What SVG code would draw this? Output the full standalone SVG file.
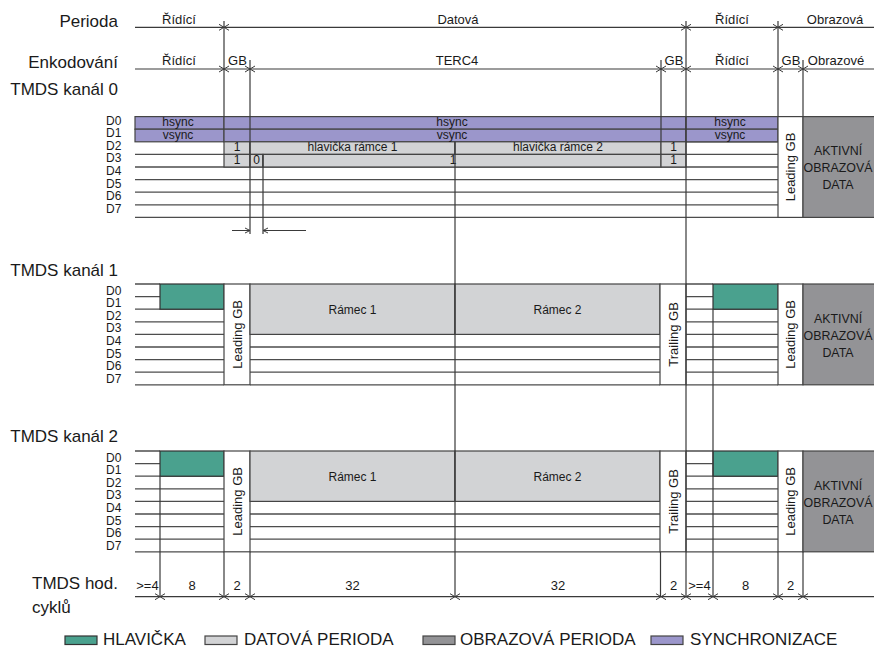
<svg xmlns="http://www.w3.org/2000/svg" width="874" height="647" viewBox="0 0 874 647">
<style>
text{font-family:"Liberation Sans",Arial,sans-serif;fill:#1a1a1a}
.big{font-size:17px}
.sm{font-size:13px}
.cell{font-size:12px}
.act{font-size:12.4px;text-anchor:middle}
.m{text-anchor:middle}
.e{text-anchor:end}
.row{stroke:#4d4d4d;stroke-width:1.3;fill:none}
.vl{stroke:#3a3a3a;stroke-width:1.2;fill:none}
.sync{fill:#9b96cb;stroke:#444;stroke-width:1.2}
.dat{fill:#d2d3d5;stroke:#444;stroke-width:1.2}
.hdr{fill:#4aa18e;stroke:#333;stroke-width:1.2}
.vid{fill:#939396;stroke:#444;stroke-width:1.2}
.gb{fill:#fff;stroke:#444;stroke-width:1.2}
.tk{stroke:#3a3a3a;stroke-width:1;fill:none}
</style>
<defs>
<path id="tick" class="tk" d="M-5 -3 L0 0 L-5 3 M5 -3 L0 0 L5 3"/>
</defs>
<rect width="874" height="647" fill="#fff"/>

<g id="labels">
<text class="big e" x="118" y="26.5">Perioda</text>
<text class="big e" x="118" y="68">Enkodování</text>
<text class="big e" x="118" y="95">TMDS kanál 0</text>
<text class="big e" x="118" y="275.5">TMDS kanál 1</text>
<text class="big e" x="118" y="441.5">TMDS kanál 2</text>
<text class="big" x="32" y="589">TMDS hod.</text>
<text class="big" x="32" y="612.5">cyklů</text>
</g>

<g id="header">
<text class="sm m" x="179" y="23.5">Řídící</text>
<text class="sm m" x="458" y="23.5">Datová</text>
<text class="sm m" x="732" y="23.5">Řídící</text>
<text class="sm m" x="835" y="23.5">Obrazová</text>
<text class="sm m" x="179" y="65">Řídící</text>
<text class="sm m" x="237.5" y="65">GB</text>
<text class="sm m" x="457" y="65">TERC4</text>
<text class="sm m" x="674" y="65">GB</text>
<text class="sm m" x="732" y="65">Řídící</text>
<text class="sm m" x="791" y="65">GB</text>
<text class="sm m" x="836" y="65">Obrazové</text>
</g>

<g id="channel0">
<path class="row" d="M135 154.4H778M135 167H778M135 179.6H778M135 192.2H778M135 204.8H778M135 217.4H778M686 141.8H778"/>
<rect class="sync" x="135" y="116.6" width="89" height="12.6"/>
<rect class="sync" x="135" y="129.2" width="89" height="12.6"/>
<rect class="sync" x="224" y="116.6" width="462" height="12.6"/>
<rect class="sync" x="224" y="129.2" width="462" height="12.6"/>
<rect class="sync" x="686" y="116.6" width="92" height="12.6"/>
<rect class="sync" x="686" y="129.2" width="92" height="12.6"/>
<rect class="dat" x="224" y="141.8" width="26" height="12.6"/>
<rect class="dat" x="250" y="141.8" width="205" height="12.6"/>
<rect class="dat" x="455" y="141.8" width="206" height="12.6"/>
<rect class="dat" x="661" y="141.8" width="25" height="12.6"/>
<rect class="dat" x="224" y="154.4" width="26" height="12.6"/>
<rect class="dat" x="250" y="154.4" width="13" height="12.6"/>
<rect class="dat" x="263" y="154.4" width="398" height="12.6"/>
<rect class="dat" x="661" y="154.4" width="25" height="12.6"/>
<text class="cell m" x="178" y="126">hsync</text>
<text class="cell m" x="178" y="138.5">vsync</text>
<text class="cell m" x="452" y="126">hsync</text>
<text class="cell m" x="452" y="138.5">vsync</text>
<text class="cell m" x="730" y="126">hsync</text>
<text class="cell m" x="730" y="138.5">vsync</text>
<text class="cell m" x="237" y="151">1</text>
<text class="cell m" x="352.5" y="151">hlavička rámce 1</text>
<text class="cell m" x="558" y="151">hlavička rámce 2</text>
<text class="cell m" x="673.5" y="151">1</text>
<text class="cell m" x="237" y="163.5">1</text>
<text class="cell m" x="256.5" y="163.5">0</text>
<text class="cell m" x="453" y="163.5">1</text>
<text class="cell m" x="673.5" y="163.5">1</text>
<rect class="gb" x="778" y="116.6" width="25" height="100.8"/>
<text class="sm m" transform="translate(795 167) rotate(-90)">Leading GB</text>
<rect class="vid" x="803" y="116.6" width="72" height="100.8"/>
<text class="act" x="838" y="155">AKTIVNÍ</text>
<text class="act" x="838" y="172">OBRAZOVÁ</text>
<text class="act" x="838" y="189">DATA</text>
<g class="cell">
<text x="106" y="124.6">D0</text><text x="106" y="137.2">D1</text><text x="106" y="149.8">D2</text><text x="106" y="162.4">D3</text>
<text x="106" y="175">D4</text><text x="106" y="187.6">D5</text><text x="106" y="200.2">D6</text><text x="106" y="212.8">D7</text>
</g>
</g>

<g id="channel1">
<path class="row" d="M135 284H160M135 296.6H160M135 309.2H224M135 321.8H224M135 334.4H224M135 347H224M135 359.6H224M135 372.2H224M135 384.8H224M250 347H660M250 359.6H660M250 372.2H660M250 384.8H660M686 284H713M686 296.6H713M686 309.2H778M686 321.8H778M686 334.4H778M686 347H778M686 359.6H778M686 372.2H778M686 384.8H778"/>
<rect class="hdr" x="160" y="284" width="64" height="25.2"/>
<rect class="gb" x="224" y="284" width="26" height="100.8"/>
<text class="sm m" transform="translate(241.5 334.4) rotate(-90)">Leading GB</text>
<rect class="dat" x="250" y="284" width="205" height="50.4"/>
<rect class="dat" x="455" y="284" width="205" height="50.4"/>
<text class="cell m" x="352.5" y="313.5">Rámec 1</text>
<text class="cell m" x="557.5" y="313.5">Rámec 2</text>
<rect class="gb" x="660" y="284" width="26" height="100.8"/>
<text class="sm m" transform="translate(677.5 334.4) rotate(-90)">Trailing GB</text>
<rect class="hdr" x="713" y="284" width="65" height="25.2"/>
<rect class="gb" x="778" y="284" width="25" height="100.8"/>
<text class="sm m" transform="translate(795 334.4) rotate(-90)">Leading GB</text>
<rect class="vid" x="803" y="284" width="72" height="100.8"/>
<text class="act" x="838" y="322.5">AKTIVNÍ</text>
<text class="act" x="838" y="339.5">OBRAZOVÁ</text>
<text class="act" x="838" y="356.5">DATA</text>
<g class="cell">
<text x="106" y="294.5">D0</text><text x="106" y="307.1">D1</text><text x="106" y="319.7">D2</text><text x="106" y="332.3">D3</text>
<text x="106" y="344.9">D4</text><text x="106" y="357.5">D5</text><text x="106" y="370.1">D6</text><text x="106" y="382.7">D7</text>
</g>
</g>

<g id="channel2">
<path class="row" d="M135 451H160M135 463.6H160M135 476.2H224M135 488.8H224M135 501.4H224M135 514H224M135 526.6H224M135 539.2H224M135 551.8H224M250 514H660M250 526.6H660M250 539.2H660M250 551.8H660M686 451H713M686 463.6H713M686 476.2H778M686 488.8H778M686 501.4H778M686 514H778M686 526.6H778M686 539.2H778M686 551.8H778"/>
<rect class="hdr" x="160" y="451" width="64" height="25.2"/>
<rect class="gb" x="224" y="451" width="26" height="100.8"/>
<text class="sm m" transform="translate(241.5 501.4) rotate(-90)">Leading GB</text>
<rect class="dat" x="250" y="451" width="205" height="50.4"/>
<rect class="dat" x="455" y="451" width="205" height="50.4"/>
<text class="cell m" x="352.5" y="480.5">Rámec 1</text>
<text class="cell m" x="557.5" y="480.5">Rámec 2</text>
<rect class="gb" x="660" y="451" width="26" height="100.8"/>
<text class="sm m" transform="translate(677.5 501.4) rotate(-90)">Trailing GB</text>
<rect class="hdr" x="713" y="451" width="65" height="25.2"/>
<rect class="gb" x="778" y="451" width="25" height="100.8"/>
<text class="sm m" transform="translate(795 501.4) rotate(-90)">Leading GB</text>
<rect class="vid" x="803" y="451" width="72" height="100.8"/>
<text class="act" x="838" y="489.5">AKTIVNÍ</text>
<text class="act" x="838" y="506.5">OBRAZOVÁ</text>
<text class="act" x="838" y="523.5">DATA</text>
<g class="cell">
<text x="106" y="461.5">D0</text><text x="106" y="474.1">D1</text><text x="106" y="486.7">D2</text><text x="106" y="499.3">D3</text>
<text x="106" y="511.9">D4</text><text x="106" y="524.5">D5</text><text x="106" y="537.1">D6</text><text x="106" y="549.7">D7</text>
</g>
</g>

<g id="connectors">
<path class="vl" d="M135 27.3H874M135 69H874M135 596.7H874"/>
<path class="vl" d="M224 21V116.6M250 60V234M263 154.4V234M455 141.8V596.7M661 60V141.8M686 21V596.7M713 309.2V596.7M778 21V116.6M803 60V116.6M160 476.2V596.7M224 551.8V596.7M250 551.8V596.7M660.5 551.8V596.7M778 551.8V596.7M803 551.8V596.7"/>
<path class="tk" d="M232 230.5H250M245 228L250 230.5L245 233M263 230.5H306M268 228L263 230.5L268 233"/>
<use href="#tick" x="224" y="27.3"/><use href="#tick" x="686" y="27.3"/><use href="#tick" x="778" y="27.3"/>
<use href="#tick" x="224" y="69"/><use href="#tick" x="250" y="69"/><use href="#tick" x="661" y="69"/><use href="#tick" x="686" y="69"/><use href="#tick" x="778" y="69"/><use href="#tick" x="803" y="69"/>
<use href="#tick" x="160" y="596.7"/><use href="#tick" x="224" y="596.7"/><use href="#tick" x="250" y="596.7"/><use href="#tick" x="455" y="596.7"/><use href="#tick" x="661" y="596.7"/><use href="#tick" x="686" y="596.7"/><use href="#tick" x="713" y="596.7"/><use href="#tick" x="778" y="596.7"/><use href="#tick" x="803" y="596.7"/>
</g>

<g id="cycles">
<text class="sm m" x="147.5" y="589.5">&gt;=4</text>
<text class="sm m" x="192" y="589.5">8</text>
<text class="sm m" x="237" y="589.5">2</text>
<text class="sm m" x="352.5" y="589.5">32</text>
<text class="sm m" x="558" y="589.5">32</text>
<text class="sm m" x="673.5" y="589.5">2</text>
<text class="sm m" x="699.5" y="589.5">&gt;=4</text>
<text class="sm m" x="745.5" y="589.5">8</text>
<text class="sm m" x="790.5" y="589.5">2</text>
</g>

<g id="legend">
<rect class="hdr" x="65" y="636" width="32" height="8.5"/>
<text class="big" x="103" y="644.5">HLAVIČKA</text>
<rect class="dat" x="205" y="636" width="32" height="8.5"/>
<text class="big" x="244" y="644.5">DATOVÁ PERIODA</text>
<rect class="vid" x="423" y="636" width="32" height="8.5"/>
<text class="big" x="460" y="644.5">OBRAZOVÁ PERIODA</text>
<rect class="sync" x="651" y="636" width="32" height="8.5"/>
<text class="big" x="690" y="644.5">SYNCHRONIZACE</text>
</g>
</svg>
